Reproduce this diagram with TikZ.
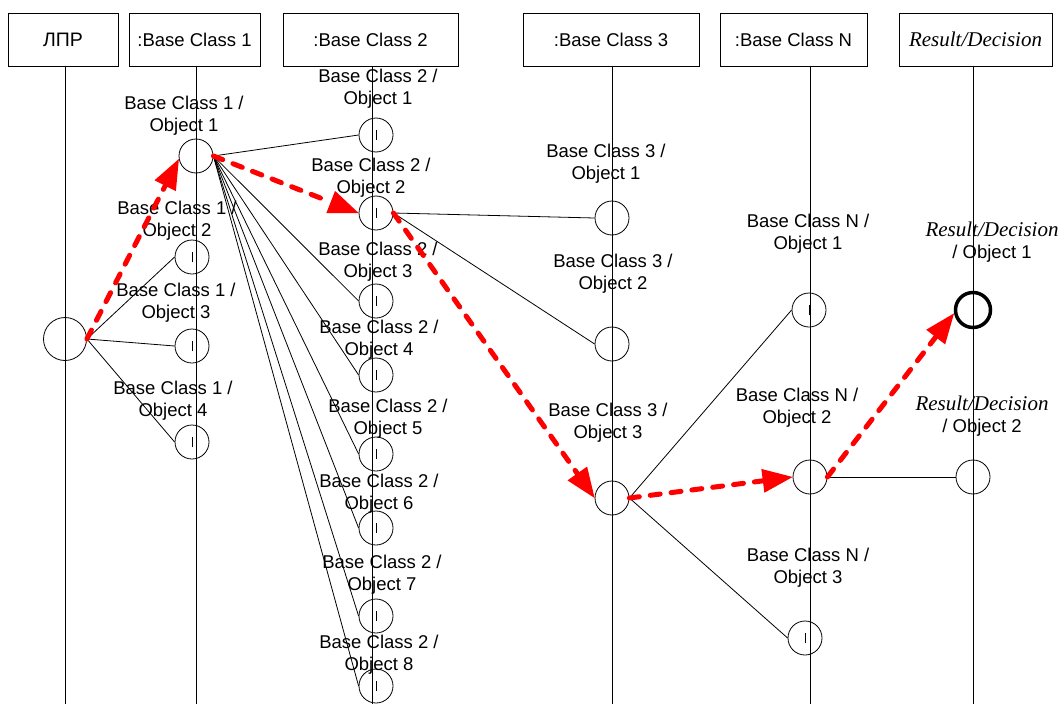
\documentclass[tikz,border=0pt]{standalone}
\usepackage{fontspec}
\setmainfont{Liberation Sans}
\newfontfamily\tms{Liberation Serif}
\usetikzlibrary{arrows.meta}
\tikzset{
  hdr/.style={draw, line width=0.8pt, minimum height=53pt, inner sep=0pt, font=\fontsize{18.5}{22}\selectfont},
  life/.style={line width=0.8pt},
  obj/.style={circle, draw, line width=0.8pt, minimum size=34pt, inner sep=0pt,
    path picture={\draw[line width=0.9pt] (path picture bounding box.center) ++(0,-5pt) -- ++(0,10pt);}},
  lbl/.style={align=center, inner sep=0pt, font=\fontsize{18.5}{22}\selectfont},
  conn/.style={line width=0.8pt},
  redarrow/.style={draw=red, line width=5pt, dash pattern=on 10pt off 11pt, line cap=round,
    -{Triangle[length=30pt,width=24pt,line width=0pt]}}
}
\begin{document}
\begin{tikzpicture}[x=1pt,y=-1pt]
\useasboundingbox (0,0) rectangle (1063,704);
% header boxes
\node[hdr, minimum width=110pt, font=\fontsize{19.5}{22}\selectfont] (hL) at (63,39.5) {ЛПР};
\node[hdr, minimum width=131pt] (h1) at (194.5,39.5) {:Base Class 1};
\node[hdr, minimum width=175pt] (h2) at (370.5,39.5) {:Base Class 2};
\node[hdr, minimum width=176pt] (h3) at (611,39.5) {:Base Class 3};
\node[hdr, minimum width=147pt] (hN) at (793.5,39.5) {:Base Class N};
\node[hdr, minimum width=153pt, font=\tms\itshape\fontsize{21}{23}\selectfont] (hR) at (975.5,39.5) {Result/Decision};
% lifelines
\foreach \n/\x in {L/65, 1/196, 2/372, 3/612, N/810, R/973}{
  \coordinate (t\n) at (\x,66);
  \coordinate (b\n) at (\x,704);
  \draw[life] (t\n) -- (b\n);
}
% objects
\node[obj, minimum size=43pt] (lpr) at (65,339) {};
\node[obj] (a1) at (196,156) {};
\node[obj] (a2) at (192,257) {};
\node[obj] (a3) at (192,346) {};
\node[obj] (a4) at (192,442) {};
\node[obj] (b1) at (376,135) {};
\node[obj] (b2) at (376,213) {};
\node[obj] (b3) at (376,301) {};
\node[obj] (b4) at (376,375) {};
\node[obj] (b5) at (376,454) {};
\node[obj] (b6) at (376,528) {};
\node[obj] (b7) at (376,616) {};
\node[obj] (b8) at (376,686) {};
\node[obj] (c1) at (612,218) {};
\node[obj] (c2) at (612,344) {};
\node[obj] (c3) at (612,498) {};
\node[obj] (n1) at (809,310) {};
\node[obj] (n2) at (810,477) {};
\node[obj] (n3) at (805,638) {};
\node[obj, line width=3.5pt, minimum size=35pt] (r1) at (973,310) {};
\node[obj] (r2) at (973,477) {};
% labels
\node[lbl] (la1) at (184,116) {Base Class 1 /\\Object 1};
\node[lbl] (la2) at (177,221) {Base Class 1 /\\Object 2};
\node[lbl] (la3) at (176,303) {Base Class 1 /\\Object 3};
\node[lbl] (la4) at (173,401) {Base Class 1 /\\Object 4};
\node[lbl] (lb1) at (378,89) {Base Class 2 /\\Object 1};
\node[lbl] (lb2) at (371,178) {Base Class 2 /\\Object 2};
\node[lbl] (lb3) at (378,262) {Base Class 2 /\\Object 3};
\node[lbl] (lb4) at (379,340) {Base Class 2 /\\Object 4};
\node[lbl] (lb5) at (388,419) {Base Class 2 /\\Object 5};
\node[lbl] (lb6) at (379,494) {Base Class 2 /\\Object 6};
\node[lbl] (lb7) at (382,575) {Base Class 2 /\\Object 7};
\node[lbl] (lb8) at (379,655) {Base Class 2 /\\Object 8};
\node[lbl] (lc1) at (606,164) {Base Class 3 /\\Object 1};
\node[lbl] (lc2) at (613,274) {Base Class 3 /\\Object 2};
\node[lbl] (lc3) at (608,423) {Base Class 3 /\\Object 3};
\node[lbl] (ln1) at (808,234) {Base Class N /\\Object 1};
\node[lbl] (ln2) at (797,408) {Base Class N /\\Object 2};
\node[lbl] (ln3) at (808,568) {Base Class N /\\Object 3};
\node[lbl] (lr1) at (992,242) {{\tms\itshape\fontsize{21}{23}\selectfont Result/Decision}\\/ Object 1};
\node[lbl] (lr2) at (982,416) {{\tms\itshape\fontsize{21}{23}\selectfont Result/Decision}\\/ Object 2};
% thin connectors
\foreach \t in {a2,a3,a4}{\draw[conn] (lpr.east) -- (\t.west);}
\foreach \t in {b1,b3,b4,b5,b6,b7,b8}{\draw[conn] (a1.east) -- (\t.west);}
\foreach \t in {c1,c2}{\draw[conn] (b2.east) -- (\t.west);}
\foreach \t in {n1,n3}{\draw[conn] (c3.east) -- (\t.west);}
\draw[conn] (n2.east) -- (r2.west);
% red path
\draw[redarrow] (lpr.east) -- (a1.190);
\draw[redarrow] (a1.east) -- (b2.west);
\draw[redarrow] (b2.east) -- (c3.west);
\draw[redarrow] (c3.east) -- (n2.west);
\draw[redarrow] (n2.east) -- (r1.190);
\end{tikzpicture}
\end{document}
